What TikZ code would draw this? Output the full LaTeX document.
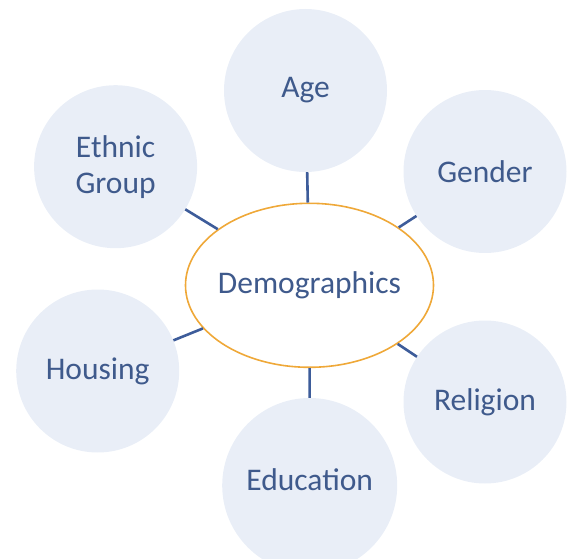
\documentclass[tikz,border=0pt]{standalone}
\usepackage{fontspec}
\setmainfont{Carlito}
\usetikzlibrary{shapes.geometric}
\definecolor{bubble}{HTML}{E9EEF7}
\definecolor{ink}{HTML}{3F5A8C}
\definecolor{spoke}{HTML}{3D5C9A}
\definecolor{rim}{HTML}{EFA838}
\begin{document}
\begin{tikzpicture}[x=1pt,y=-1pt,
  topic/.style={circle,fill=bubble,inner sep=0pt,minimum size=163pt,
    text=ink,font=\fontsize{31.5}{36}\selectfont,align=center},
  word/.style={text=ink,font=\fontsize{31.5}{36}\selectfont},
  hub/.style={ellipse,draw=rim,line width=1.6pt,fill=white,inner sep=0pt,
    minimum width=248pt,minimum height=164pt},
  link/.style={draw=spoke,line width=2.6pt}]
\useasboundingbox (0,0) rectangle (571,559);
\node[topic] (age) at (305.5,90.5) {Age};
\node[topic] (eth) at (115.6,166.7) {Ethnic\\Group};
\node[topic] (gen) at (485,171.5) {Gender};
\node[topic] (hou) at (97.7,371) {Housing};
\node[topic] (rel) at (485,402) {Religion};
\node[topic,minimum size=175pt] (edu) at (309.7,485.5) {};
\node[word] (edutext) at (309.7,480) {Education};
\node[hub] (dem) at (309.5,285.3) {};
\node[word] (demtext) at (309.5,285.3) {Demographics};
\foreach \t in {age,eth,gen,hou,rel,edu}
  \draw[link] (\t) -- (dem);
\end{tikzpicture}
\end{document}
